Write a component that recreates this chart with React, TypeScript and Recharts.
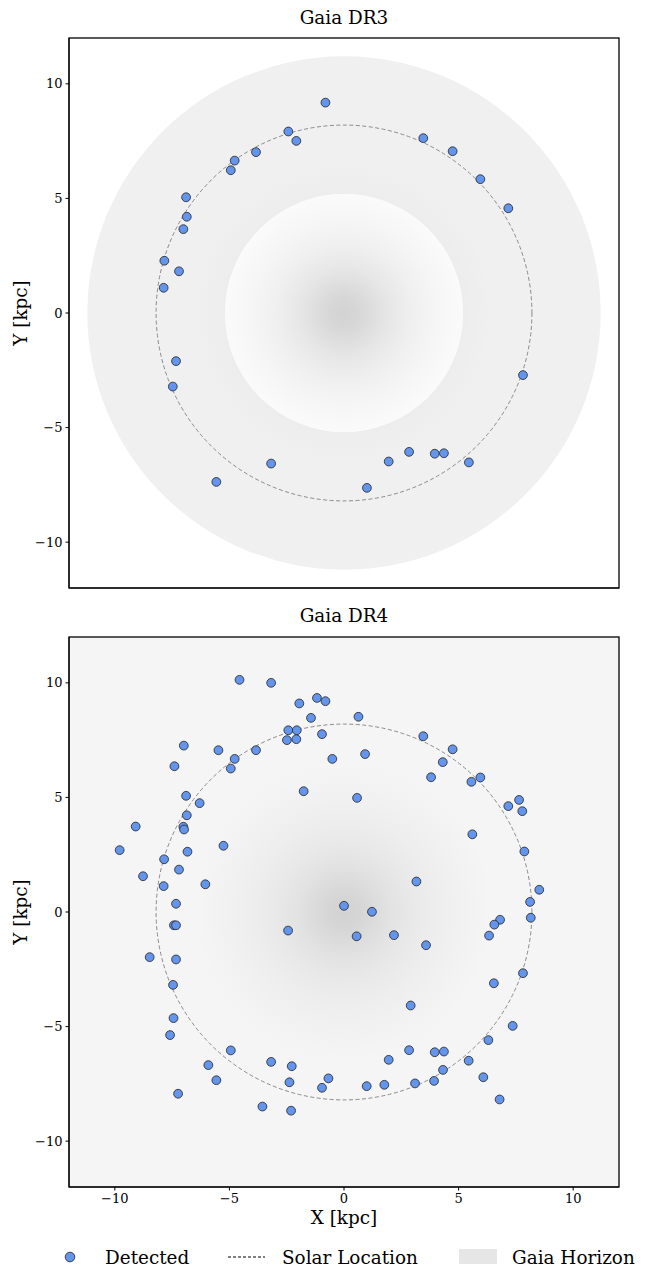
import * as Recharts from "recharts";
import { Scatter, ScatterChart, XAxis, YAxis } from "recharts";

const axisRange: [number, number] = [-12, 12];
const axisTicks = [-10, -5, 0, 5, 10];
const solarRadius = 8.2;

// Gaia horizon (kpc) per data release
const dr3Horizon = { inner: 5.2, outer: 11.2 };
const dr4Horizon = { inner: 0, outer: 18 };

// radial density of the background stellar disc (kpc -> opacity)
const bulgeRadii = [0, 0.6, 1.2, 2, 3, 4, 5, 6.5];
const bulgeAlpha = [0.92, 0.85, 0.7, 0.5, 0.32, 0.2, 0.11, 0];

const dr3Detected: [number, number][] = [
  [-0.81, 9.18], [-2.43, 7.92], [-2.08, 7.51], [-3.84, 7.02], [-4.77, 6.65],
  [-4.94, 6.23], [-6.89, 5.05], [-6.86, 4.2], [-7.01, 3.66], [-7.84, 2.28],
  [-7.2, 1.82], [-7.87, 1.1], [-7.33, -2.1], [-7.47, -3.21], [-3.18, -6.57],
  [-5.57, -7.37], [7.81, -2.71], [2.84, -6.06], [1.95, -6.48], [3.96, -6.14],
  [4.36, -6.12], [5.45, -6.52], [1.0, -7.63], [3.46, 7.63], [4.74, 7.06],
  [5.95, 5.84], [7.17, 4.57],
];

const dr4Detected: [number, number][] = [
  [-4.56, 10.13], [-3.18, 10.0], [-1.95, 9.1], [-1.18, 9.34], [-0.81, 9.2],
  [-1.44, 8.47], [-2.43, 7.93], [-2.06, 7.93], [-2.49, 7.5], [-2.08, 7.54],
  [-0.96, 7.76], [-0.51, 6.68], [-6.99, 7.26], [-5.48, 7.06], [-3.84, 7.06],
  [-4.77, 6.68], [-4.94, 6.26], [-7.4, 6.36], [-1.76, 5.27], [-6.89, 5.07],
  [-6.3, 4.75], [-6.86, 4.22], [-9.09, 3.73], [-7.01, 3.72], [-6.98, 3.6],
  [-5.26, 2.89], [-9.79, 2.7], [-6.83, 2.63], [-7.85, 2.3], [-7.2, 1.85],
  [-8.77, 1.56], [-6.05, 1.21], [-7.87, 1.13], [-7.33, 0.36], [0.0, 0.27],
  [0.63, 8.52], [0.92, 6.89], [3.46, 7.67], [4.74, 7.1], [4.31, 6.54],
  [3.8, 5.88], [5.56, 5.68], [5.95, 5.87], [0.57, 4.98], [7.17, 4.62],
  [7.64, 4.89], [7.78, 4.4], [5.6, 3.39], [7.87, 2.64], [3.16, 1.33],
  [8.52, 0.97], [8.12, 0.44], [1.22, 0.01],
  [-7.42, -0.58], [-7.33, -0.58], [-2.44, -0.81], [-8.48, -1.97], [-7.33, -2.07],
  [-7.46, -3.18], [-7.44, -4.63], [-7.59, -5.37], [-4.94, -6.04], [-5.92, -6.68],
  [-5.57, -7.34], [-3.18, -6.54], [-2.28, -6.73], [-2.38, -7.43], [-0.68, -7.26],
  [-0.96, -7.67], [-7.24, -7.93], [-3.56, -8.49], [-2.31, -8.67],
  [0.55, -1.06], [2.18, -1.01], [3.58, -1.45], [6.81, -0.34], [6.56, -0.55],
  [6.33, -1.03], [8.15, -0.25], [7.81, -2.67], [6.54, -3.11], [2.91, -4.08],
  [7.36, -4.97], [6.3, -5.59], [2.84, -6.03], [3.96, -6.12], [4.36, -6.09],
  [1.95, -6.45], [5.44, -6.49], [4.32, -6.89], [6.08, -7.21], [3.93, -7.37],
  [3.1, -7.48], [1.76, -7.54], [0.99, -7.6], [6.79, -8.18],
];

const FONT = "'DejaVu Serif', serif";
const MARKER = "#6495ed";
const BIG = 18.4;

const fmt = (v: number) => (v < 0 ? `\u2212${Math.abs(v)}` : `${v}`);

function usePlotBox() {
  const R = Recharts as any;
  if (R.usePlotArea) return R.usePlotArea();
  const off = R.useOffset();
  const w = R.useChartWidth();
  const h = R.useChartHeight();
  if (!off) return null;
  return {
    x: off.left,
    y: off.top,
    width: w - off.left - off.right,
    height: h - off.top - off.bottom,
  };
}

function Backdrop({ id, horizon, horizonFill }: any) {
  const plot = usePlotBox();
  if (!plot) return null;
  const span = axisRange[1] - axisRange[0];
  const k = plot.width / span;
  const cx = plot.x + ((0 - axisRange[0]) / span) * plot.width;
  const cy = plot.y + ((axisRange[1] - 0) / span) * plot.height;
  const bulgeR = bulgeRadii[bulgeRadii.length - 1];
  return (
    <g>
      <defs>
        <clipPath id={`${id}-clip`}>
          <rect x={plot.x} y={plot.y} width={plot.width} height={plot.height} />
        </clipPath>
        <radialGradient id={`${id}-bulge`} cx="50%" cy="50%" r="50%">
          {bulgeRadii.map((r, i) => (
            <stop key={r} offset={r / bulgeR} stopColor="#cfcfcf" stopOpacity={bulgeAlpha[i]} />
          ))}
        </radialGradient>
      </defs>
      <g clipPath={`url(#${id}-clip)`}>
        <circle cx={cx} cy={cy} r={horizon.outer * k} fill={horizonFill} />
        {horizon.inner > 0 && <circle cx={cx} cy={cy} r={horizon.inner * k} fill="#ffffff" />}
        <circle cx={cx} cy={cy} r={bulgeR * k} fill={`url(#${id}-bulge)`} />
        <circle
          cx={cx}
          cy={cy}
          r={solarRadius * k}
          fill="none"
          stroke="#8a8a8a"
          strokeWidth={1}
          strokeDasharray="4 2.5"
        />
      </g>
    </g>
  );
}

function Frame() {
  const plot = usePlotBox();
  if (!plot) return null;
  return (
    <rect
      x={plot.x}
      y={plot.y}
      width={plot.width}
      height={plot.height}
      fill="none"
      stroke="#000"
      strokeWidth={1.3}
    />
  );
}

const dot = (p: any) => (
  <circle cx={p.cx} cy={p.cy} r={4.4} fill={MARKER} stroke="#222" strokeWidth={0.8} />
);

const tickStyle = { fill: "#000", fontSize: 13, fontFamily: FONT };

function Panel({ id, points, horizon, horizonFill, showX, width, height, margin }: any) {
  const data = points.map(([x, y]: [number, number]) => ({ x, y }));
  return (
    <ScatterChart width={width} height={height} margin={margin}>
      <Backdrop id={id} horizon={horizon} horizonFill={horizonFill} />
      <XAxis
        type="number"
        dataKey="x"
        domain={axisRange}
        ticks={axisTicks}
        allowDataOverflow
        height={showX ? 30 : 12}
        tick={showX ? tickStyle : false}
        tickFormatter={fmt}
        tickSize={3.5}
        tickMargin={3}
        stroke="#000"
      />
      <YAxis
        type="number"
        dataKey="y"
        domain={axisRange}
        ticks={axisTicks}
        allowDataOverflow
        width={69}
        tick={tickStyle}
        tickFormatter={fmt}
        tickSize={3.5}
        tickMargin={3}
        stroke="#000"
      />
      <Scatter data={data} shape={dot} isAnimationActive={false} />
      <Frame />
    </ScatterChart>
  );
}

export default function App() {
  return (
    <div style={{ position: "absolute", left: 0, top: 0, width: 657, height: 1267, background: "#fff" }}>
      <div style={{ position: "absolute", left: 0, top: 0 }}>
        <Panel
          id="dr3"
          points={dr3Detected}
          horizon={dr3Horizon}
          horizonFill="#f0f0f0"
          showX={false}
          width={657}
          height={600}
          margin={{ top: 38, right: 38, left: 0, bottom: 0 }}
        />
      </div>
      <div style={{ position: "absolute", left: 0, top: 600 }}>
        <Panel
          id="dr4"
          points={dr4Detected}
          horizon={dr4Horizon}
          horizonFill="#f5f5f5"
          showX
          width={657}
          height={617}
          margin={{ top: 37, right: 38, left: 0, bottom: 0 }}
        />
      </div>
      <svg
        width={657}
        height={1267}
        style={{ position: "absolute", left: 0, top: 0, pointerEvents: "none" }}
        fontFamily={FONT}
      >
        <text x={344} y={24} fontSize={BIG} textAnchor="middle">Gaia DR3</text>
        <text x={344} y={622} fontSize={BIG} textAnchor="middle">Gaia DR4</text>
        <text x={27} y={313} fontSize={BIG} textAnchor="middle" transform="rotate(-90 27 313)">Y [kpc]</text>
        <text x={27} y={912} fontSize={BIG} textAnchor="middle" transform="rotate(-90 27 912)">Y [kpc]</text>
        <text x={344} y={1224} fontSize={BIG} textAnchor="middle">X [kpc]</text>

        <circle cx={70} cy={1257} r={4.8} fill={MARKER} stroke="#222" strokeWidth={0.8} />
        <text x={105} y={1263.5} fontSize={BIG}>Detected</text>
        <line x1={228} y1={1257} x2={265} y2={1257} stroke="#000" strokeWidth={1} strokeDasharray="3 2" />
        <text x={282} y={1263.5} fontSize={BIG}>Solar Location</text>
        <rect x={459} y={1249} width={38} height={15} fill="#e6e6e6" />
        <text x={512} y={1263.5} fontSize={BIG}>Gaia Horizon</text>
      </svg>
    </div>
  );
}
